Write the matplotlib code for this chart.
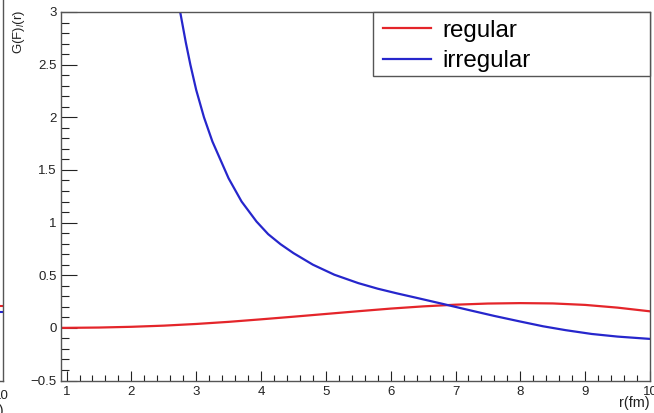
import matplotlib
matplotlib.use("Agg")
import matplotlib.pyplot as plt
from matplotlib.ticker import MultipleLocator, FuncFormatter
from matplotlib.patches import Rectangle

plt.rcParams["font.family"] = ["Liberation Sans", "DejaVu Sans"]
plt.rcParams["mathtext.fontset"] = "custom"
plt.rcParams["mathtext.rm"] = "Liberation Sans"
plt.rcParams["mathtext.it"] = "Liberation Sans:italic"

# regular solution F_l(r)
r_regular = [0.9, 1.0, 1.5, 2.0, 2.5, 3.0, 3.5, 4.0, 4.5, 5.0, 5.5,
             6.0, 6.5, 7.0, 7.5, 8.0, 8.5, 9.0, 9.5, 10.0]
g_regular = [0.000, 0.000, 0.003, 0.010, 0.021, 0.037, 0.057, 0.081, 0.106, 0.132, 0.158,
             0.183, 0.204, 0.220, 0.231, 0.235, 0.232, 0.218, 0.192, 0.157]

# irregular solution G_l(r)
r_irregular = [2.7, 2.756, 2.84, 2.91, 3.0, 3.12, 3.25, 3.5, 3.7, 3.93, 4.11, 4.3, 4.5,
               4.8, 5.13, 5.5, 5.8, 6.1, 6.4, 6.8, 7.2, 7.6, 8.0, 8.35, 8.7,
               9.1, 9.5, 10.0]
g_irregular = [3.19, 2.99, 2.71, 2.50, 2.26, 2.00, 1.77, 1.42, 1.20, 1.01, 0.89, 0.795, 0.71,
               0.60, 0.505, 0.425, 0.372, 0.327, 0.285, 0.228, 0.170, 0.113, 0.060, 0.015, -0.022,
               -0.058, -0.083, -0.105]

# neighbouring pad, only its right edge is visible
r_neighbor = [9.8, 10.0]
g_neighbor_regular = [0.21, 0.21]
g_neighbor_irregular = [0.155, 0.155]

x_ticks = list(range(1, 11))
y_ticks = [-0.5, 0, 0.5, 1, 1.5, 2, 2.5, 3]

red = "#e4252a"
blue = "#2626cc"
frame = "#555555"
ink = "#222222"
W, H = 654, 413

fig = plt.figure(figsize=(W / 100, H / 100), dpi=100)

# neighbour pad on the left
ax0 = fig.add_axes([-0.5, 32.5 / H, 0.5 + 3 / W, 380.5 / H])
ax0.plot(r_neighbor, g_neighbor_regular, color=red, lw=1.5)
ax0.plot(r_neighbor, g_neighbor_irregular, color=blue, lw=1.5)
ax0.set_xlim(0.91, 10)
ax0.set_ylim(-0.5, 3.114)
ax0.set_xticks([])
ax0.set_yticks([])
for s in ["top", "left"]:
    ax0.spines[s].set_visible(False)
for s in ["right", "bottom"]:
    ax0.spines[s].set_color(frame)
    ax0.spines[s].set_linewidth(1)
fig.text(9 / W, 1 - 396 / H, "10", ha="right", va="center", fontsize=9.5, color=ink)
fig.text(4 / W, 1 - 411 / H, "r(fm)", ha="right", va="center", fontsize=10.4, color=ink)

# main pad
ax = fig.add_axes([60.7 / W, 32.5 / H, 589.3 / W, 368.5 / H])
ax.plot(r_regular, g_regular, color=red, lw=1.6, label="regular")
ax.plot(r_irregular, g_irregular, color=blue, lw=1.6, label="irregular")
ax.set_xlim(0.91, 10)
ax.set_ylim(-0.5, 3)

ax.set_xticks(x_ticks)
ax.set_yticks(y_ticks)
ax.xaxis.set_minor_locator(MultipleLocator(0.2))
ax.yaxis.set_minor_locator(MultipleLocator(0.1))
ax.yaxis.set_major_formatter(FuncFormatter(lambda v, p: f"{v:g}".replace("-", "\u2212")))
ax.tick_params(axis="x", which="major", direction="in", length=7.2, width=0.8,
               labelsize=9.5, pad=4, colors=ink)
ax.tick_params(axis="x", which="minor", direction="in", length=4, width=0.8, colors=ink)
ax.tick_params(axis="y", which="major", direction="in", length=11.3, width=0.8,
               labelsize=9.5, pad=3, colors=ink)
ax.tick_params(axis="y", which="minor", direction="in", length=5.8, width=0.8, colors=ink)
for s in ax.spines.values():
    s.set_color(frame)
    s.set_linewidth(1)

fig.text(650 / W, 1 - 403 / H, "r(fm)", ha="right", va="center", fontsize=10.4, color=ink)
fig.text(19 / W, 1 - 10 / H, "G(F)$_{l}$(r)", rotation=90, ha="center", va="top",
         fontsize=9.5, color=ink)

# legend box like ROOT's TLegend
ax.add_patch(Rectangle((0.5305, 0.8263), 0.4695, 0.1737, transform=ax.transAxes,
                       facecolor="white", edgecolor=frame, lw=1, zorder=4, clip_on=False))
ax.legend(loc="upper left", bbox_to_anchor=(0.5474, 0.979), frameon=False,
          fontsize=17.4, borderpad=0, borderaxespad=0, handlelength=1.98,
          handletextpad=0.45, labelspacing=0.35)

fig.savefig("out.png", dpi=100)
